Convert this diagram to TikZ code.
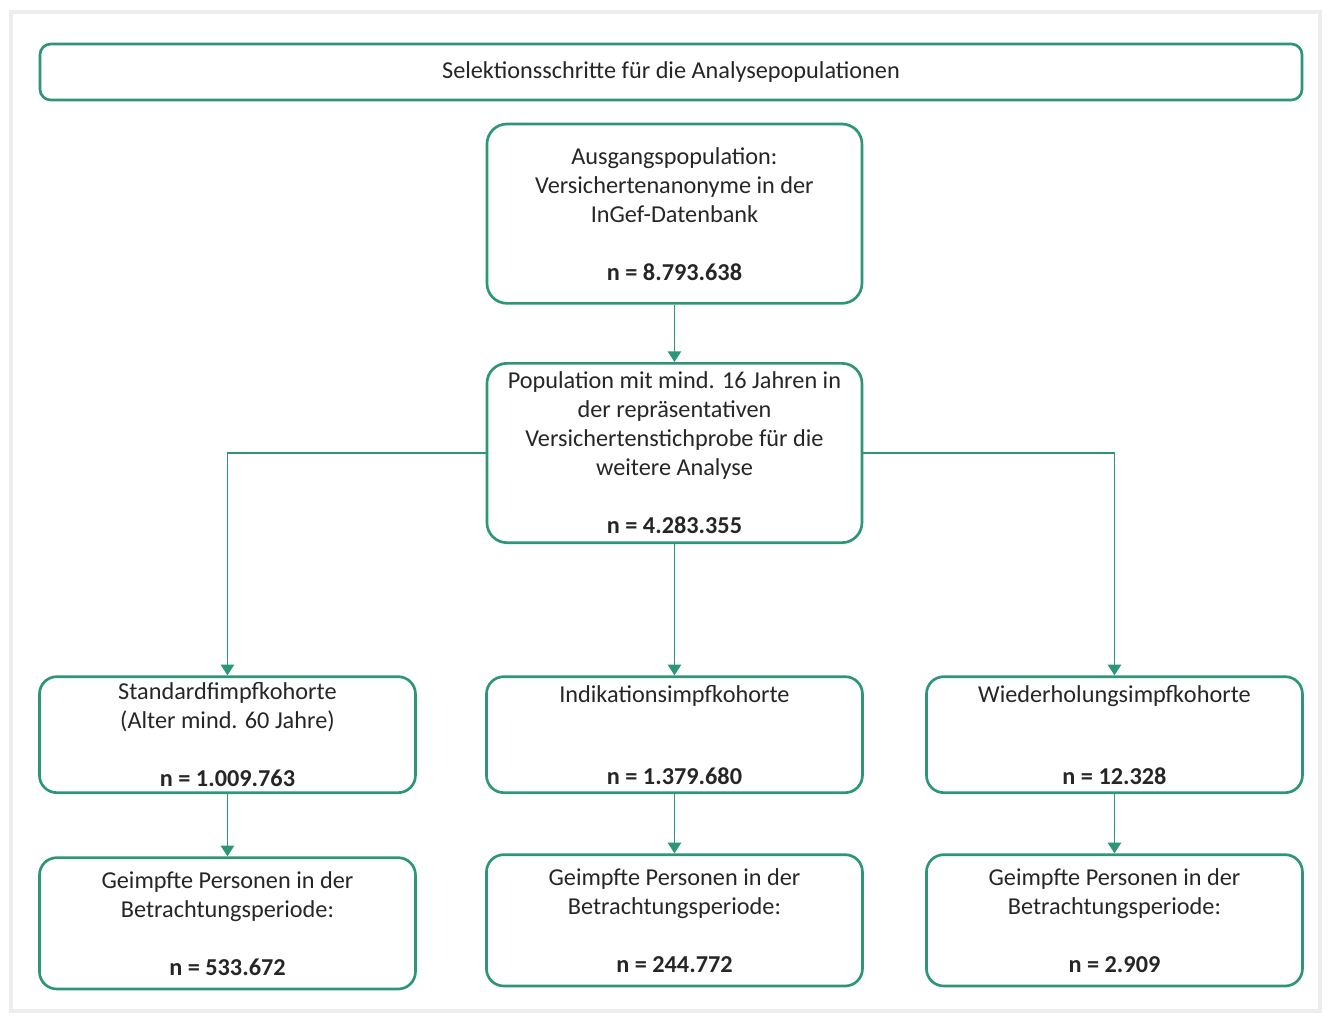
\documentclass[tikz,border=0pt]{standalone}
\usepackage{fontspec}
\setmainfont{Carlito}
\usepackage{tikz}
\usetikzlibrary{arrows.meta,positioning}
\definecolor{flow}{HTML}{2E9678}
\definecolor{ink}{HTML}{262626}
\definecolor{frame}{HTML}{EDEDED}
\tikzset{
  box/.style    = {rectangle, rounded corners=15pt, draw=flow, line width=2pt, fill=white,
                   text=ink, align=center, font=\fontsize{18.2}{21.75}\selectfont,
                   inner sep=0pt, minimum width=281.25pt},
  bigbox/.style = {box, minimum height=134.5pt},
  cohbox/.style = {box, minimum width=282pt, minimum height=87pt, rounded corners=13pt},
  vacbox/.style = {box, minimum width=282pt, minimum height=98.5pt, rounded corners=13pt},
  headbox/.style= {box, rounded corners=8pt, minimum width=946.5pt, minimum height=42pt},
  fl/.style     = {-{Triangle[width=10pt,length=8pt]}, line width=1.1pt, draw=flow},
}

\begin{document}
\begin{tikzpicture}
\useasboundingbox[fill=white] (0,0) rectangle (996pt,-763.5pt);
\draw[frame, line width=3pt] (8pt,-9pt) rectangle (990pt,-758pt);
% header
\node[headbox] (head) at (503.25pt,-54pt) {Selektionsschritte für die Analysepopulationen};
% populations
\node[bigbox, below=16pt of head, xshift=2.6pt] (start) {Ausgangspopulation:\\Versichertenanonyme in der\\InGef-Datenbank\\[21.75pt]\textbf{n = 8.793.638}};
\node[bigbox, below=43pt of start] (pop) {Population mit mind. 16 Jahren in\\der repräsentativen\\Versichertenstichprobe für die\\weitere Analyse\\[21.75pt]\textbf{n = 4.283.355}};
% cohorts
\node[cohbox, below=98.5pt of pop] (ind) {Indikationsimpfkohorte\\[39.75pt]\textbf{n = 1.379.680}};
\node[cohbox, left=51.25pt of ind] (std) {Standardfimpfkohorte\\(Alter mind. 60 Jahre)\\[21.75pt]\textbf{n = 1.009.763}};
\node[cohbox, right=46pt of ind] (rep) {Wiederholungsimpfkohorte\\[39.75pt]\textbf{n = 12.328}};
% vaccinated
\node[vacbox, below=46.75pt of std] (stdvac) {Geimpfte Personen in der\\Betrachtungsperiode:\\[21.75pt]\textbf{n = 533.672}};
\node[vacbox, below=44.5pt of ind] (indvac) {Geimpfte Personen in der\\Betrachtungsperiode:\\[21.75pt]\textbf{n = 244.772}};
\node[vacbox, below=44.5pt of rep] (repvac) {Geimpfte Personen in der\\Betrachtungsperiode:\\[21.75pt]\textbf{n = 2.909}};
% edges
\draw[fl] (start) -- (pop);
\draw[fl] (pop.west) -| (std.north);
\draw[fl] (pop) -- (ind);
\draw[fl] (pop.east) -| (rep.north);
\draw[fl] (std) -- (stdvac);
\draw[fl] (ind) -- (indvac);
\draw[fl] (rep) -- (repvac);
\end{tikzpicture}
\end{document}
